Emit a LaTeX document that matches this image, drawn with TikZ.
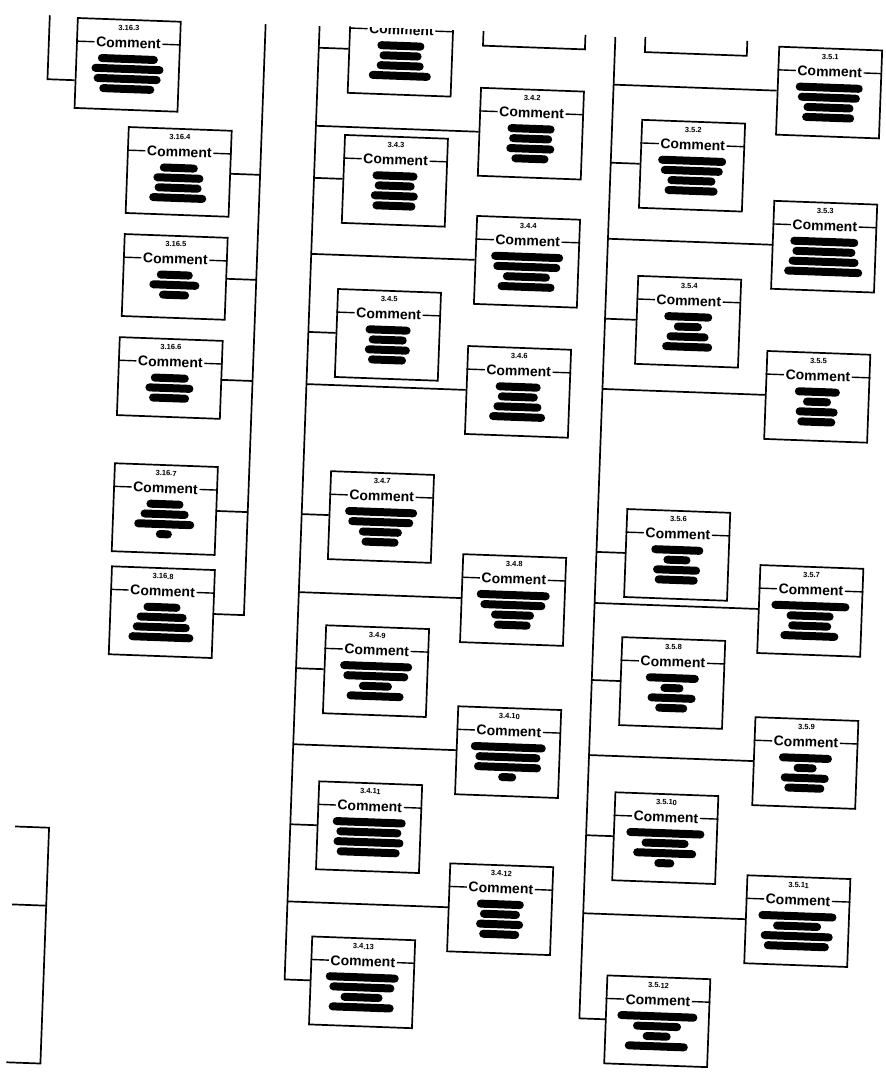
\documentclass[tikz,border=0pt]{standalone}
\usepackage{fontspec}
\setmainfont{Liberation Sans}
\usetikzlibrary{calc}

% one comment box: name, centre, number, height, widths of the text bars
\newcommand{\cmtbox}[5]{%
  \node[box, minimum height=#4] (#1) at (#2) {};
  \node[num] at ([yshift=-9pt]#1.north) {#3};
  \node[cmt] (#1c) at ([yshift=-24pt]#1.north) {Comment};
  \draw[rule] (#1c.west) -- ($(#1.north west)!(#1c.west)!(#1.south west)$)
              (#1c.east) -- ($(#1.north east)!(#1c.east)!(#1.south east)$);
  \foreach \w [count=\i] in {#5}
    \fill[bar] ([yshift=-30-10*\i]#1.north) ++(-\w/2,-4) rectangle ++(\w,8);
}

\begin{document}
\begin{tikzpicture}[
  x=1pt, y=-1pt,
  box/.style={draw, line width=1.7pt, minimum width=#1, inner sep=0pt},
  box/.default=103pt,
  num/.style={font=\bfseries\fontsize{7.5}{8}\selectfont, inner sep=0pt},
  cmt/.style={font=\bfseries\fontsize{14}{15}\selectfont, inner sep=1.5pt},
  rule/.style={line width=1.4pt},
  bar/.style={fill=black, rounded corners=3.9pt},
  wire/.style={line width=1.7pt},
]
\fill[white] (0,0) rectangle (886,1072);
\useasboundingbox (0,0) rectangle (886,1072);

\begin{scope}[rotate around={-2.1:(443,536)}, transform shape]
\clip (-60,30) rectangle (960,1140);

% Left column
\cmtbox{l3}{110.6,76.7}{3.16.3}{90pt}{60,72,67,55}
\cmtbox{l4}{165.5,181.8}{3.16.4}{86pt}{38,50,47,57}
\cmtbox{l5}{165.4,286.9}{3.16.5}{82pt}{36,50,30}
\cmtbox{l6}{164.2,388.1}{3.16.6}{78pt}{38,48,40}
\cmtbox{l7}{164,519.3}{3.16.7}{88pt}{37,48,60,16}
\cmtbox{l8}{164.8,622.4}{3.16.8}{88pt}{37,50,57,65}

% Middle column
\cmtbox{m1}{383,52.6}{}{88pt}{47,42,47,62}
\cmtbox{m2}{516.1,130.7}{3.4.2}{88pt}{47,43,48,37}
\cmtbox{m3}{381.9,182.8}{3.4.3}{88pt}{45,40,47,43}
\cmtbox{m4}{516.9,258.9}{3.4.4}{88pt}{72,67,47,57}
\cmtbox{m5}{380.6,337}{3.4.5}{88pt}{45,38,45,38}
\cmtbox{m6}{512.7,389.2}{3.4.6}{88pt}{45,40,48,56}
\cmtbox{m7}{380.3,519.3}{3.4.7}{88pt}{72,65,43,37}
\cmtbox{m8}{515.4,597.4}{3.4.8}{88pt}{73,65,43,37}
\cmtbox{m9}{381,673.5}{3.4.9}{88pt}{72,65,33,57}
\cmtbox{m10}{516,749.6}{3.4.10}{88pt}{75,65,67,18}
\cmtbox{m11}{379.8,829.7}{3.4.11}{88pt}{73,65,70,63}
\cmtbox{m12}{513.8,906.9}{3.4.12}{88pt}{47,40,47,40}
\cmtbox{m13}{378.5,985}{3.4.13}{88pt}{73,65,42,65}

% Right column
\cmtbox{r1}{812.6,78.7}{3.5.1}{88pt}{67,62,50,52}
\cmtbox{r2}{678.3,156.8}{3.5.2}{88pt}{68,62,48,53}
\cmtbox{r3}{813.3,232.9}{3.5.3}{88pt}{68,63,70,78}
\cmtbox{r4}{680.1,312.9}{3.5.4}{88pt}{48,28,42,50}
\cmtbox{r5}{811.9,383.2}{3.5.5}{88pt}{45,28,42,38}
\cmtbox{r6}{677.7,546.3}{3.5.6}{88pt}{52,27,47,43}
\cmtbox{r7}{812.8,597.4}{3.5.7}{88pt}{78,47,43,58}
\cmtbox{r8}{677.4,674.5}{3.5.8}{88pt}{53,23,48,32}
\cmtbox{r9}{813.4,749.6}{3.5.9}{88pt}{53,23,48,40}
\cmtbox{r10}{676.2,829.8}{3.5.10}{88pt}{78,47,63,20}
\cmtbox{r11}{811.2,907.9}{3.5.11}{88pt}{78,48,72,65}
\cmtbox{r12}{674.9,1013.1}{3.5.12}{88pt}{80,48,28,63}

% Bottoms of the boxes cut off at the top
\draw[wire] (465,30) -- (465,44.5) -- (567,44.5) -- (567,30);
\draw[wire] (627,30) -- (627,45) -- (729,45) -- (729,30);

% Trunks
\coordinate (at) at (31,30);
\coordinate (ac) at (31,94);
\coordinate (lt) at (247,31);
\coordinate (lb) at (247,622.4);
\coordinate (mt) at (301,31);
\coordinate (mb) at (301,985);
\coordinate (rt) at (597,31);
\coordinate (rb) at (597,1013.1);
\coordinate (b1) at (26,842);
\coordinate (b2) at (60,842);
\coordinate (b3) at (60,1078);
\coordinate (b4) at (26,1078);
\coordinate (b5) at (26,920);
\coordinate (b6) at (60,920);

\draw[wire] (at) -- (ac) -- ($(l3.south west)!(ac)!(l3.north west)$);
\draw[wire] (b1) -- (b2) -- (b3) -- (b4);
\draw[wire] (b5) -- (b6);

% Left column links
\draw[wire] (lt) -- (lb) -- (l8.east);
\draw[wire] (l4.east) -- ($(lt)!(l4.east)!(lb)$);
\draw[wire] (l5.east) -- ($(lt)!(l5.east)!(lb)$);
\draw[wire] (l6.east) -- ($(lt)!(l6.east)!(lb)$);
\draw[wire] (l7.east) -- ($(lt)!(l7.east)!(lb)$);

% Middle column links
\draw[wire] (mt) -- (mb) -- (m13.west);
\draw[wire] (m1.west) -- ($(mt)!(m1.west)!(mb)$);
\draw[wire] (m2.west) -- ($(mt)!(m2.west)!(mb)$);
\draw[wire] (m3.west) -- ($(mt)!(m3.west)!(mb)$);
\draw[wire] (m4.west) -- ($(mt)!(m4.west)!(mb)$);
\draw[wire] (m5.west) -- ($(mt)!(m5.west)!(mb)$);
\draw[wire] (m6.west) -- ($(mt)!(m6.west)!(mb)$);
\draw[wire] (m7.west) -- ($(mt)!(m7.west)!(mb)$);
\draw[wire] (m8.west) -- ($(mt)!(m8.west)!(mb)$);
\draw[wire] (m9.west) -- ($(mt)!(m9.west)!(mb)$);
\draw[wire] (m10.west) -- ($(mt)!(m10.west)!(mb)$);
\draw[wire] (m11.west) -- ($(mt)!(m11.west)!(mb)$);
\draw[wire] (m12.west) -- ($(mt)!(m12.west)!(mb)$);

% Right column links
\draw[wire] (rt) -- (rb) -- (r12.west);
\draw[wire] (r1.west) -- ($(rt)!(r1.west)!(rb)$);
\draw[wire] (r2.west) -- ($(rt)!(r2.west)!(rb)$);
\draw[wire] (r3.west) -- ($(rt)!(r3.west)!(rb)$);
\draw[wire] (r4.west) -- ($(rt)!(r4.west)!(rb)$);
\draw[wire] (r5.west) -- ($(rt)!(r5.west)!(rb)$);
\draw[wire] (r6.west) -- ($(rt)!(r6.west)!(rb)$);
\draw[wire] (r7.west) -- ($(rt)!(r7.west)!(rb)$);
\draw[wire] (r8.west) -- ($(rt)!(r8.west)!(rb)$);
\draw[wire] (r9.west) -- ($(rt)!(r9.west)!(rb)$);
\draw[wire] (r10.west) -- ($(rt)!(r10.west)!(rb)$);
\draw[wire] (r11.west) -- ($(rt)!(r11.west)!(rb)$);
\end{scope}
\end{tikzpicture}
\end{document}
